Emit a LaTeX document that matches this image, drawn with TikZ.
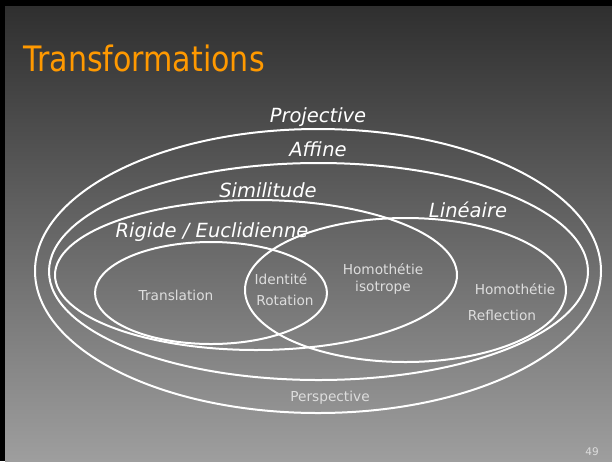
\documentclass[tikz,border=0pt]{standalone}
\usepackage{fontspec}
\setmainfont{DejaVu Sans}
\newfontfamily\titlefont[FakeStretch=0.86]{DejaVu Sans}

\definecolor{slideorange}{HTML}{FF9900}
\definecolor{slidetop}{HTML}{2F2F2F}
\definecolor{slidebottom}{HTML}{9E9E9E}
\definecolor{membergrey}{HTML}{DDDDDD}

\tikzset{
  setline/.style={draw=white,line width=2pt},
  setname/.style={anchor=base,text=white,font=\fontsize{19.5}{22}\selectfont\itshape},
  member/.style={anchor=base,text=membergrey,font=\fontsize{13.7}{16}\selectfont},
}

\begin{document}
\begin{tikzpicture}[x=1pt,y=-1pt,line cap=round,line join=round,every node/.style={inner sep=1pt}]
  \useasboundingbox (0,0) rectangle (612,461);
  % fond de la diapo : bord noir en haut et a gauche, degrade gris
  \fill[black] (0,0) rectangle (612,461);
  \shade[top color=slidetop,bottom color=slidebottom] (5,6) rectangle (612,461);
  \node[anchor=base west,text=slideorange,font=\titlefont\fontsize{35}{40}\selectfont] (title) at (22,71.5) {Transformations};

  % les ensembles de transformations
  \draw[setline] (318,271) ellipse[x radius=283,y radius=142];
  \draw[setline] (318.5,271.5) ellipse[x radius=269.5,y radius=108.5];
  \draw[setline] (256,275) ellipse[x radius=201,y radius=75];
  \draw[setline] (211,293) ellipse[x radius=116,y radius=51];
  \draw[setline] (405.5,290) ellipse[x radius=160.5,y radius=72];

  \node[setname] (projective) at (318,122) {Projective};
  \node[setname] (affine) at (318,156) {Affine};
  \node[setname] (similitude) at (268,197) {Similitude};
  \node[setname] (rigide) at (212,237.5) {Rigide / Euclidienne};
  \node[setname] (lineaire) at (468,217) {Linéaire};

  \node[member] (translation) at (176,300) {Translation};
  \node[member] (identite) at (281,284) {Identité};
  \node[member] (rotation) at (285,305) {Rotation};
  \node[member] (homiso) at (383,274) {Homothétie};
  \node[member] (isotrope) at (383,291.5) {isotrope};
  \node[member] (homothetie) at (515,294) {Homothétie};
  \node[member] (reflection) at (502,320) {Reflection};
  \node[member] (perspective) at (330,401.5) {Perspective};

  \node[anchor=base,text=membergrey,font=\fontsize{10.5}{12}\selectfont] (pagenum) at (592,455) {49};
\end{tikzpicture}
\end{document}
